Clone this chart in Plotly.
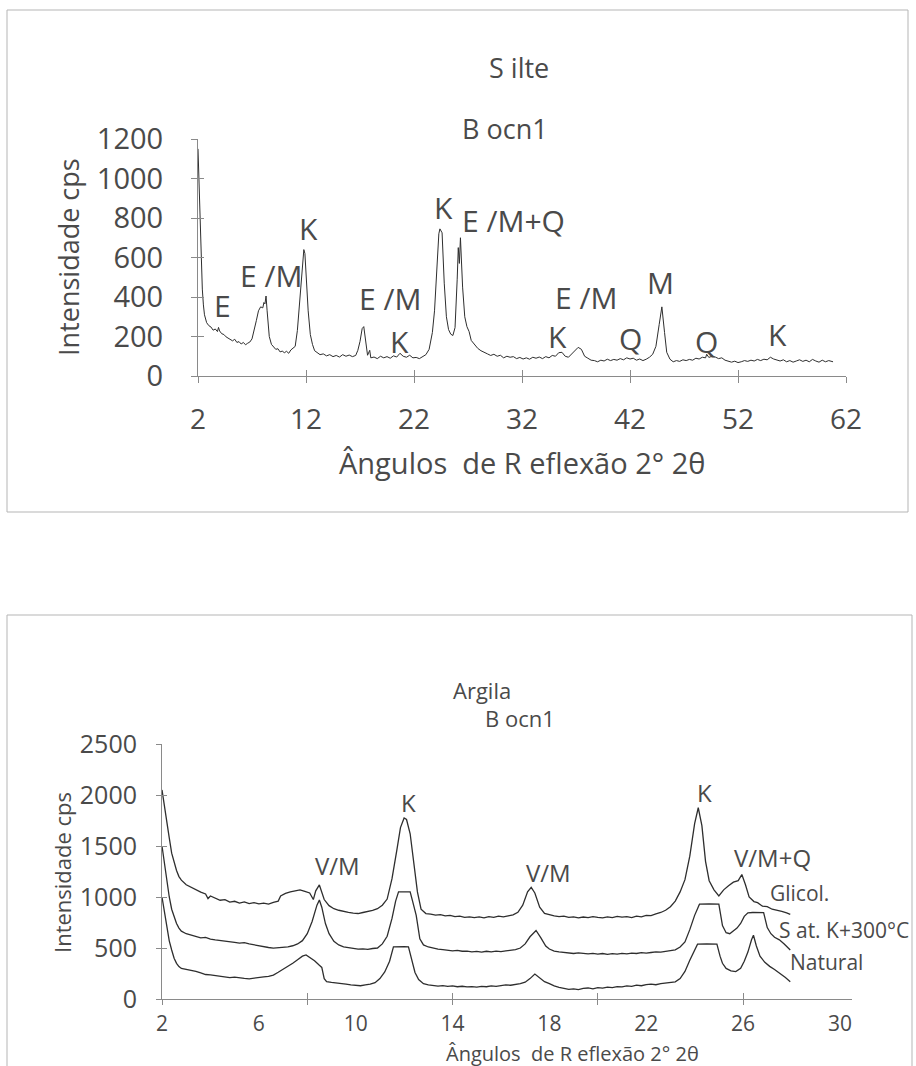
import plotly.graph_objects as go

# ---------------- data: top chart (Silte) ----------------
silte_x = [2.0,2.1,2.2,2.3,2.4,2.5,2.6,2.8,3.0,3.2,3.4,3.6,3.8,3.9,4.0,4.2,4.4,4.6,4.8,5.0,5.2,5.4,5.6,5.8,6.0,6.2,6.4,6.6,6.8,7.0,
           7.2,7.4,7.6,7.8,8.0,8.1,8.2,8.3,8.4,8.5,8.6,8.8,9.0,9.2,9.4,9.6,9.8,10.0,10.2,10.4,10.6,10.8,11.0,11.2,11.4,11.6,11.8,11.9,12.0,12.2,
           12.4,12.6,12.8,13.0,13.3,13.6,13.9,14.2,14.5,14.8,15.1,15.4,15.7,16.0,16.3,16.6,16.8,17.0,17.2,17.35,17.5,17.7,17.9,18.0,18.3,18.6,18.9,19.2,19.5,19.8,
           20.1,20.4,20.7,21.0,21.3,21.6,21.9,22.2,22.5,22.8,23.1,23.4,23.7,23.9,24.1,24.3,24.4,24.6,24.8,25.0,25.2,25.4,25.6,25.8,26.0,26.1,26.2,26.3,26.5,26.7,
           26.9,27.1,27.3,27.6,27.9,28.2,28.5,28.8,29.1,29.4,29.7,30.0,30.3,30.6,30.9,31.2,31.5,31.8,32.1,32.4,32.7,33.0,33.3,33.6,33.9,34.2,34.5,34.8,35.1,35.4,
           35.7,36.0,36.3,36.6,36.9,37.2,37.5,37.8,38.1,38.4,38.7,39.0,39.3,39.6,39.9,40.2,40.5,40.8,41.1,41.4,41.7,42.0,42.3,42.6,42.9,43.2,43.5,43.8,44.1,44.4,
           44.7,44.95,45.2,45.4,45.7,46.0,46.3,46.6,46.9,47.2,47.5,47.8,48.1,48.4,48.7,49.0,49.1,49.3,49.6,49.9,50.2,50.5,50.8,51.1,51.4,51.7,52.0,52.3,52.6,52.9,
           53.2,53.5,53.8,54.1,54.4,54.7,55.0,55.3,55.6,55.9,56.2,56.5,56.8,57.1,57.4,57.7,58.0,58.3,58.6,58.9,59.2,59.5,59.8,60.1,60.4,60.8]
silte_y = [1150,950,780,560,440,360,310,270,255,248,232,238,225,246,228,214,210,198,192,185,178,186,170,174,162,170,158,166,172,188,
           230,280,330,350,345,372,365,405,330,260,200,160,145,135,138,122,126,118,125,115,132,140,150,230,380,540,640,620,510,330,
           210,160,128,118,108,112,102,108,98,104,96,108,100,106,98,104,130,175,240,250,180,105,130,92,96,88,100,92,98,90,
           102,96,115,100,95,105,92,94,88,98,108,135,220,330,560,720,745,725,470,300,235,212,205,245,490,650,570,700,450,300,
           250,225,180,160,140,128,118,112,104,110,100,105,92,100,95,98,88,94,86,92,85,95,90,96,88,98,92,104,100,118,
           120,100,95,112,130,145,135,100,90,80,78,72,80,76,85,78,84,80,88,82,92,86,90,80,86,78,85,95,110,150,
           260,350,220,120,85,72,78,74,82,78,84,80,90,86,95,92,110,94,100,96,88,92,80,76,70,75,68,72,78,74,
           80,76,84,78,85,82,95,86,80,76,82,72,78,70,76,82,74,80,72,84,76,70,80,72,78,72]

silte_labels = ["E", "E /M", "K", "E /M", "K", "K", "E /M+Q", "K", "E /M", "Q", "M", "Q", "K"]
silte_lab_x = [4.3, 8.8, 12.2, 19.8, 20.7, 24.7, 31.2, 35.3, 37.9, 42.0, 44.8, 49.1, 55.7]
silte_lab_y = [355, 507, 749, 390, 177, 851, 786, 198, 400, 190, 475, 175, 210]
silte_xticks = [2, 12, 22, 32, 42, 52, 62]
silte_yticks = [0, 200, 400, 600, 800, 1000, 1200]

# ---------------- data: bottom chart (Argila) ----------------
glicol_x = [2.0,2.1,2.2,2.3,2.4,2.5,2.6,2.7,2.8,3.0,3.2,3.4,3.6,3.8,3.9,4.0,4.2,4.4,4.6,4.8,5.0,5.2,5.4,5.6,5.8,6.0,6.2,6.4,6.6,6.8,
            6.9,7.1,7.3,7.5,7.7,7.9,8.1,8.25,8.35,8.5,8.6,8.7,8.9,9.1,9.3,9.5,9.7,9.9,10.1,10.3,10.5,10.7,10.9,11.1,11.3,11.5,11.7,11.85,12.0,12.1,
            12.25,12.4,12.55,12.7,12.9,13.1,13.3,13.5,13.7,13.9,14.1,14.3,14.5,14.7,14.9,15.1,15.3,15.5,15.7,15.9,16.1,16.3,16.5,16.7,16.9,17.1,17.25,17.4,17.6,17.8,
            18.0,18.2,18.4,18.6,18.8,19.0,19.2,19.4,19.6,19.8,20.0,20.2,20.4,20.6,20.8,21.0,21.2,21.4,21.6,21.8,22.0,22.2,22.4,22.6,22.8,23.0,23.2,23.4,23.6,23.8,
            24.0,24.15,24.3,24.45,24.6,24.8,25.0,25.2,25.4,25.6,25.8,25.95,26.1,26.25,26.45,26.6,26.8,27.0,27.2,27.4,27.6,27.8,27.95]
glicol_y = [2050,1880,1740,1580,1430,1330,1260,1200,1165,1120,1095,1075,1048,1030,985,1010,985,968,975,950,958,940,952,935,945,932,940,930,948,960,
            1010,1035,1050,1062,1070,1055,1040,975,1060,1118,1050,975,915,885,870,858,850,842,838,848,855,868,885,920,980,1180,1460,1680,1775,1760,
            1620,1330,1050,880,838,832,822,828,815,820,808,812,800,806,798,805,796,808,800,812,806,815,825,850,920,1050,1095,1040,900,840,
            825,815,808,812,800,806,796,804,798,808,800,795,805,798,810,802,808,798,812,806,820,818,835,848,870,905,960,1050,1170,1400,
            1720,1875,1700,1350,1160,1070,1010,1070,1110,1145,1160,1220,1120,1000,955,945,910,905,880,872,860,845,830]

satk_x = [2.0,2.1,2.2,2.3,2.4,2.5,2.6,2.7,2.8,3.0,3.2,3.4,3.6,3.8,4.0,4.2,4.4,4.6,4.8,5.0,5.2,5.4,5.6,5.8,6.0,6.2,6.4,6.6,6.8,7.0,
          7.2,7.4,7.6,7.8,8.0,8.2,8.4,8.5,8.6,8.75,8.9,9.1,9.3,9.5,9.7,9.9,10.1,10.3,10.5,10.7,10.9,11.1,11.3,11.5,11.65,11.77,12.0,12.25,12.35,12.5,
          12.65,12.8,13.0,13.2,13.4,13.6,13.8,14.0,14.2,14.4,14.6,14.8,15.0,15.2,15.4,15.6,15.8,16.0,16.2,16.4,16.6,16.8,17.0,17.2,17.45,17.65,17.85,18.0,18.2,18.4,
          18.6,18.8,19.0,19.2,19.4,19.6,19.8,20.0,20.2,20.4,20.6,20.8,21.0,21.2,21.4,21.6,21.8,22.0,22.2,22.4,22.6,22.8,23.0,23.2,23.4,23.6,23.8,24.0,24.2,24.6,
          25.0,25.15,25.3,25.45,25.6,25.75,25.9,26.05,26.2,26.4,26.85,27.0,27.15,27.3,27.5,27.7,27.95]
satk_y = [1500,1320,1160,1000,880,800,740,695,665,640,625,612,600,604,588,580,572,566,560,555,548,552,540,530,520,512,505,498,502,505,
          512,522,540,572,640,760,920,970,900,740,640,565,530,512,505,496,488,492,486,495,500,540,615,790,960,1050,1052,1050,960,820,
          590,530,510,498,490,484,478,472,476,468,470,462,466,460,468,462,470,465,472,478,485,500,540,610,672,600,520,490,470,462,
          455,450,446,452,448,442,448,440,446,438,444,440,448,442,450,446,455,450,456,462,460,470,475,482,510,560,680,820,930,932,
          930,720,650,640,668,695,740,810,845,848,846,700,640,605,580,540,480]

natural_x = [2.0,2.1,2.2,2.3,2.4,2.5,2.6,2.7,2.8,3.0,3.2,3.4,3.6,3.8,4.0,4.2,4.4,4.6,4.8,5.0,5.2,5.4,5.6,5.8,6.0,6.2,6.4,6.6,6.8,7.0,
             7.2,7.4,7.6,7.8,7.95,8.1,8.3,8.5,8.6,8.7,8.8,9.0,9.2,9.4,9.6,9.8,10.0,10.2,10.4,10.6,10.8,11.0,11.2,11.4,11.56,11.8,12.0,12.18,12.3,12.45,
             12.6,12.8,13.0,13.2,13.4,13.6,13.8,14.0,14.2,14.4,14.6,14.8,15.0,15.2,15.4,15.6,15.8,16.0,16.2,16.4,16.6,16.8,17.0,17.2,17.4,17.6,17.8,18.0,18.2,18.4,
             18.6,18.8,19.0,19.2,19.4,19.6,19.8,20.0,20.2,20.4,20.6,20.8,21.0,21.2,21.4,21.6,21.8,22.0,22.2,22.4,22.6,22.8,23.0,23.2,23.4,23.6,23.8,24.0,24.12,24.5,
             24.92,25.05,25.15,25.3,25.5,25.7,25.9,26.05,26.2,26.35,26.43,26.55,26.7,26.9,27.1,27.3,27.55,27.75,27.95]
natural_y = [1000,850,700,570,480,400,350,318,300,290,284,270,255,240,236,228,220,214,210,215,206,202,198,206,210,216,222,235,262,290,
             320,350,385,420,432,410,375,330,310,200,170,162,158,152,145,138,132,130,138,145,160,200,265,370,512,515,513,512,390,260,
             190,150,138,130,126,132,124,128,120,125,118,122,116,124,120,128,124,132,138,135,142,150,165,200,245,205,170,150,128,115,
             102,95,100,92,104,108,100,112,106,116,112,122,118,128,124,136,130,142,146,140,150,155,160,168,200,270,380,480,538,540,
             538,420,350,300,275,268,300,370,460,580,625,520,420,360,320,290,250,210,170]

argila_labels = ["V/M", "K", "V/M", "K", "V/M+Q"]
argila_lab_x = [9.23, 12.2, 17.95, 24.4, 27.2]
argila_lab_y = [1304, 1930, 1245, 2020, 1392]
series_names = ["Glicol.", "S at. K+300°C", "Natural"]
series_lab_x = [27.04, 27.41, 27.87]
series_lab_y = [1039, 672, 360]
argila_xlabels = [2, 6, 10, 14, 18, 22, 26, 30]
argila_xmarks = [2, 8, 14, 20, 26]
argila_yticks = [0, 500, 1000, 1500, 2000, 2500]

# ---------------- figure ----------------
W, H = 916, 1066
FONT = "Open Sans"
TXT = "#4a4a4a"
AX = "#8a8a8a"
LINE = "#2e2e2e"

def px_x(p):
    return p / W

def px_y(p):
    return 1 - p / H

fig = go.Figure()
fig.add_trace(go.Scatter(x=silte_x, y=silte_y, mode="lines", line=dict(color=LINE, width=1.0),
                         xaxis="x", yaxis="y", showlegend=False, hoverinfo="skip"))
for xs, ys in [(glicol_x, glicol_y), (satk_x, satk_y), (natural_x, natural_y)]:
    fig.add_trace(go.Scatter(x=xs, y=ys, mode="lines", line=dict(color=LINE, width=1.3),
                             xaxis="x2", yaxis="y2", showlegend=False, hoverinfo="skip"))
# invisible helpers so overlay axes (crossing tick marks) are drawn
fig.add_trace(go.Scatter(x=[silte_x[0]], y=[silte_y[0]], mode="lines", opacity=0,
                         xaxis="x3", yaxis="y3", showlegend=False, hoverinfo="skip"))
fig.add_trace(go.Scatter(x=[glicol_x[0]], y=[glicol_y[0]], mode="lines", opacity=0,
                         xaxis="x4", yaxis="y4", showlegend=False, hoverinfo="skip"))
fig.add_trace(go.Scatter(x=[glicol_x[0]], y=[glicol_y[0]], mode="lines", opacity=0,
                         xaxis="x5", yaxis="y4", showlegend=False, hoverinfo="skip"))

top_dom_x = [px_x(198), px_x(846)]
top_dom_y = [px_y(376), px_y(139)]
bot_dom_x = [px_x(162), px_x(852)]
bot_dom_y = [px_y(999), px_y(744)]

common_ax = dict(showgrid=False, zeroline=False, automargin=False, linecolor=AX, linewidth=1,
                 tickcolor=AX, tickwidth=1, tickfont=dict(family=FONT, color=TXT))

fig.update_layout(
    template="none",
    width=W, height=H, autosize=False,
    margin=dict(l=0, r=0, t=0, b=0, pad=0),
    paper_bgcolor="white", plot_bgcolor="white",
    font=dict(family=FONT, color=TXT),
    showlegend=False,
    xaxis=dict(**common_ax, domain=top_dom_x, anchor="y", range=[2, 62], tickmode="array",
               tickvals=silte_xticks, ticks="outside", ticklen=6, showline=True,
               tickfont_size=28, ticklabelstandoff=12),
    yaxis=dict(**common_ax, domain=top_dom_y, anchor="x", range=[0, 1200], tickmode="array",
               tickvals=silte_yticks, ticks="outside", ticklen=6, showline=True,
               tickfont_size=29, ticklabelstandoff=22),
    xaxis3=dict(**common_ax, overlaying="x", anchor="y", range=[2, 62], tickmode="array",
                tickvals=silte_xticks, ticks="inside", ticklen=6, showline=False, showticklabels=False),
    yaxis3=dict(**common_ax, overlaying="y", anchor="x", range=[0, 1200], tickmode="array",
                tickvals=silte_yticks, ticks="inside", ticklen=6, showline=False, showticklabels=False),
    xaxis2=dict(**common_ax, domain=bot_dom_x, anchor="y2", range=[2, 30.5], tickmode="array",
                tickvals=argila_xlabels, ticks="", showline=True, tickfont_size=21, ticklabelstandoff=6),
    yaxis2=dict(**common_ax, domain=bot_dom_y, anchor="x2", range=[0, 2500], tickmode="array",
                tickvals=argila_yticks, ticks="outside", ticklen=5, showline=True,
                tickfont_size=25, ticklabelstandoff=14),
    xaxis4=dict(**common_ax, overlaying="x2", anchor="y2", range=[2, 30.5], tickmode="array",
                tickvals=argila_xmarks, ticks="outside", ticklen=5, showline=False, showticklabels=False),
    xaxis5=dict(**common_ax, overlaying="x2", anchor="y2", range=[2, 30.5], tickmode="array",
                tickvals=argila_xmarks, ticks="inside", ticklen=6, showline=False, showticklabels=False),
    yaxis4=dict(**common_ax, overlaying="y2", anchor="x2", range=[0, 2500], tickmode="array",
                tickvals=argila_yticks, ticks="inside", ticklen=5, showline=False, showticklabels=False),
)


def paper_text(text, x, y, size, angle=0):
    return dict(text=text, x=px_x(x), y=px_y(y), xref="paper", yref="paper", showarrow=False,
                xanchor="center", yanchor="middle", textangle=angle,
                font=dict(size=size, family=FONT, color=TXT))


ann = [
    paper_text("S ilte", 519, 67, 27),
    paper_text("B ocn1", 505, 128, 27),
    paper_text("Ângulos  de R eflexão 2° 2θ", 522, 462, 29),
    paper_text("Intensidade cps", 68, 257, 27, -90),
    paper_text("Argila", 482, 690, 22),
    paper_text("B ocn1", 520, 718, 22),
    paper_text("Ângulos  de R eflexão 2° 2θ", 572, 1053, 20),
    paper_text("Intensidade cps", 62, 873, 22, -90),
]
for t, xv, yv in zip(silte_labels, silte_lab_x, silte_lab_y):
    ann.append(dict(text=t, x=xv, y=yv, xref="x", yref="y", showarrow=False,
                    xanchor="center", yanchor="middle", font=dict(size=30, family=FONT, color=TXT)))
for t, xv, yv in zip(argila_labels, argila_lab_x, argila_lab_y):
    ann.append(dict(text=t, x=xv, y=yv, xref="x2", yref="y2", showarrow=False,
                    xanchor="center", yanchor="middle", font=dict(size=24, family=FONT, color=TXT)))
for t, xv, yv in zip(series_names, series_lab_x, series_lab_y):
    ann.append(dict(text=t, x=xv, y=yv, xref="x2", yref="y2", showarrow=False,
                    xanchor="left", yanchor="middle", font=dict(size=21, family=FONT, color=TXT)))
fig.update_layout(annotations=ann)

# chart frames
fig.update_layout(shapes=[
    dict(type="rect", xref="paper", yref="paper", x0=px_x(7), x1=px_x(908), y0=px_y(512), y1=px_y(10),
         line=dict(color="#b5b5b5", width=1)),
    dict(type="rect", xref="paper", yref="paper", x0=px_x(7), x1=px_x(912), y0=px_y(1075), y1=px_y(615),
         line=dict(color="#b5b5b5", width=1)),
])

fig.write_html("out.html", config={"displayModeBar": False},
               post_script="document.body.style.margin='0px';")
